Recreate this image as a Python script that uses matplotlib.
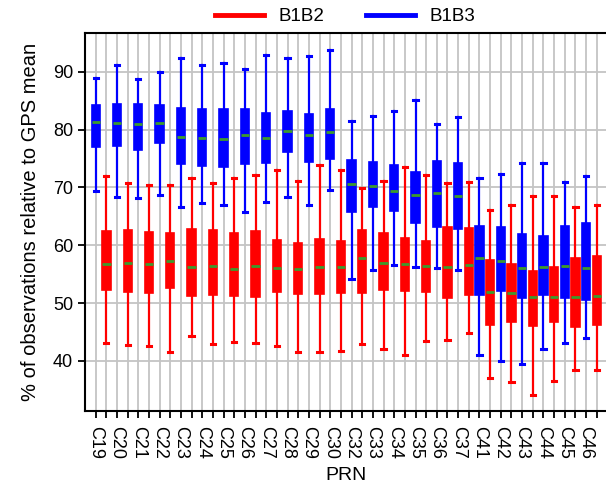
import matplotlib.pyplot as plt
from matplotlib.lines import Line2D

plt.rcParams['font.family'] = ['Liberation Sans', 'DejaVu Sans']

prn = ['C19', 'C20', 'C21', 'C22', 'C23', 'C24', 'C25', 'C26', 'C27', 'C28', 'C29', 'C30',
       'C32', 'C33', 'C34', 'C35', 'C36', 'C37', 'C41', 'C42', 'C43', 'C44', 'C45', 'C46']

# B1B3 (blue)
b3_low = [69.4, 68.4, 68.1, 68.7, 66.7, 67.3, 66.9, 65.7, 67.4, 68.3, 66.9, 69.5,
          54.1, 55.7, 56.6, 56.2, 56.1, 55.7, 41.1, 40.0, 39.4, 42.1, 43.1, 43.9]
b3_q1 = [77.0, 77.1, 76.4, 77.6, 74.0, 73.7, 73.5, 74.0, 74.3, 76.2, 74.4, 75.0,
         65.8, 66.6, 66.0, 63.9, 63.2, 62.8, 51.4, 52.1, 50.8, 51.4, 50.8, 50.5]
b3_med = [81.3, 81.1, 80.9, 81.1, 78.8, 78.6, 78.4, 79.1, 78.6, 79.8, 79.1, 79.5,
          70.6, 70.3, 69.4, 68.7, 69.0, 68.5, 57.8, 57.2, 56.1, 56.3, 56.4, 56.1]
b3_q3 = [84.3, 84.4, 84.4, 84.2, 83.8, 83.5, 83.5, 83.6, 82.8, 83.2, 82.7, 83.5,
         74.8, 74.4, 73.9, 72.6, 74.5, 74.3, 63.4, 63.2, 61.9, 61.6, 63.4, 63.9]
b3_high = [89.0, 91.1, 88.7, 89.9, 92.4, 91.1, 91.5, 90.5, 92.9, 92.4, 92.8, 93.7,
           81.5, 82.3, 83.3, 85.1, 81.0, 82.1, 71.7, 72.3, 74.2, 74.2, 70.9, 71.9]

# B1B2 (red)
b2_low = [43.1, 42.8, 42.6, 41.5, 44.4, 43.0, 43.2, 43.1, 42.6, 41.6, 41.6, 41.7,
          43.0, 42.0, 41.0, 43.5, 43.6, 44.9, 37.0, 36.4, 34.1, 36.6, 38.5, 38.5]
b2_q1 = [52.2, 52.0, 51.8, 52.6, 51.2, 51.4, 51.3, 51.1, 52.0, 51.5, 51.6, 51.8,
         51.8, 52.3, 52.1, 52.0, 50.8, 51.4, 46.2, 46.7, 46.0, 46.7, 45.8, 46.2]
b2_med = [56.8, 57.0, 56.7, 57.3, 56.3, 56.4, 55.9, 56.4, 56.1, 55.9, 56.3, 56.2,
          57.8, 57.0, 56.8, 56.4, 56.3, 56.6, 52.0, 51.8, 51.0, 51.1, 51.0, 51.2]
b2_q3 = [62.4, 62.7, 62.3, 62.2, 62.9, 62.7, 62.2, 62.4, 60.9, 60.4, 61.1, 60.7,
         62.6, 62.2, 61.2, 60.7, 63.2, 63.0, 57.5, 56.8, 55.6, 56.3, 57.8, 58.2]
b2_high = [71.9, 70.7, 70.5, 70.4, 71.7, 70.7, 71.7, 72.2, 73.1, 71.2, 73.9, 73.1,
           69.9, 71.1, 73.6, 72.2, 70.7, 70.9, 66.1, 67.0, 68.5, 68.6, 66.7, 66.9]


def make_stats(low, q1, med, q3, high):
    return [dict(whislo=a, q1=b, med=c, q3=d, whishi=e, fliers=[])
            for a, b, c, d, e in zip(low, q1, med, q3, high)]


fig = plt.figure(figsize=(6.06, 4.95), dpi=100)
ax = fig.add_axes([0.1403, 0.1703, 0.862, 0.763])

n = len(prn)
pos_b3 = [2 * i + 1 for i in range(n)]
pos_b2 = [2 * i + 2 for i in range(n)]
med_col = '#3c9a2c'


def draw(stats, pos, col):
    ax.bxp(stats, positions=pos, widths=0.78, patch_artist=True, showfliers=False,
           boxprops=dict(facecolor=col, edgecolor=col, linewidth=1.2),
           whiskerprops=dict(color=col, linewidth=1.6),
           capprops=dict(color=col, linewidth=2.2),
           medianprops=dict(color=med_col, linewidth=2),
           capwidths=0.4, manage_ticks=False, zorder=3)


draw(make_stats(b3_low, b3_q1, b3_med, b3_q3, b3_high), pos_b3, '#0000ff')
draw(make_stats(b2_low, b2_q1, b2_med, b2_q3, b2_high), pos_b2, '#ff0000')

ax.set_xlim(0, 2 * n + 1)
ax.set_ylim(31.4, 96.7)
ax.set_yticks([40, 50, 60, 70, 80, 90])
xt = list(range(1, 2 * n + 1))
xl = []
for i in range(n):
    xl += [prn[i], '']
ax.set_xticks(xt)
ax.set_xticklabels(xl, rotation=270, fontsize=13)
ax.tick_params(axis='y', labelsize=13, direction='out', length=5, width=1.3)
ax.tick_params(axis='x', direction='out', length=5, width=1.3, pad=6)
ax.grid(True, color='#c4c4c4', linewidth=1.3, zorder=0)
ax.set_axisbelow(True)
for s in ax.spines.values():
    s.set_linewidth(1.5)

ax.set_xlabel('PRN', fontsize=14, labelpad=6)
ax.set_ylabel('% of observations relative to GPS mean', fontsize=14.5, labelpad=9)

handles = [Line2D([], [], color='#ff0000', linewidth=3.5),
           Line2D([], [], color='#0000ff', linewidth=3.5)]
fig.legend(handles, ['B1B2', 'B1B3'], loc='center', bbox_to_anchor=(0.57, 0.966),
           ncol=2, frameon=False, fontsize=13.5, handlelength=2.6, columnspacing=2.2)

fig.savefig('out.png', dpi=100)
